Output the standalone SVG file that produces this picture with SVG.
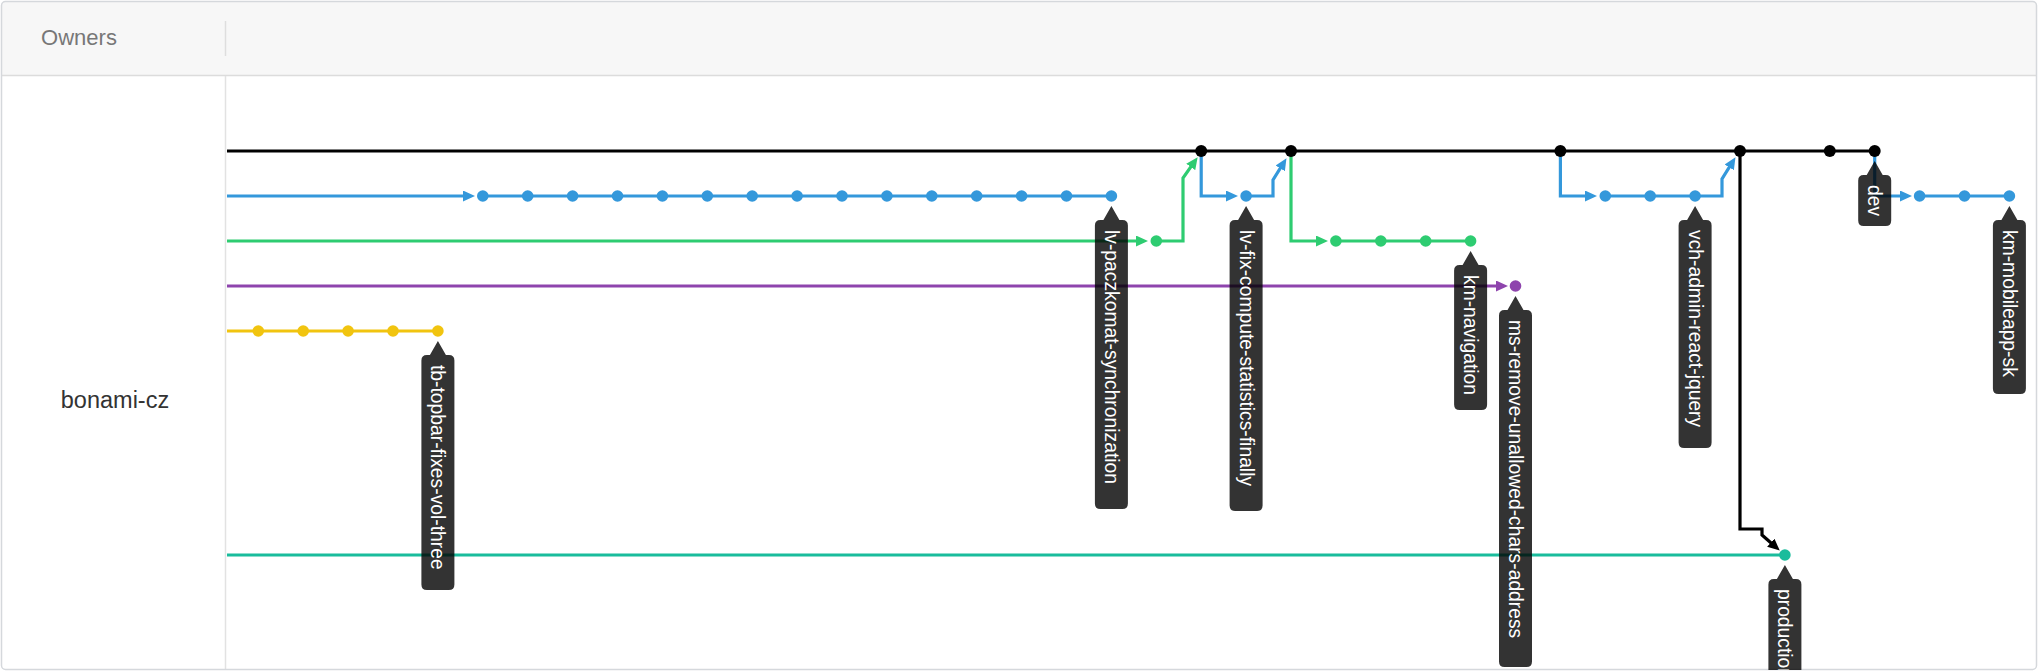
<svg xmlns="http://www.w3.org/2000/svg" width="2039" height="672" viewBox="0 0 2039 672">
<defs>
<style>
.ln{fill:none;stroke-width:3.2;stroke-linejoin:miter}
.bk{stroke:#000}.bl{stroke:#3498db}.gr{stroke:#2ecc71}.pu{stroke:#8e44ad}.ye{stroke:#f1c40f}.te{stroke:#1abc9c}
.cbk{fill:#000}.cbl{fill:#3498db}.cgr{fill:#2ecc71}.cpu{fill:#8e44ad}.cye{fill:#f1c40f}.cte{fill:#1abc9c}
.tag path{fill:#000;fill-opacity:.8}
.tag text{fill:#fff;font-family:"Liberation Sans",Arial,sans-serif;font-size:19.3px}
</style>
<marker id="abk" markerUnits="userSpaceOnUse" markerWidth="13" markerHeight="11" refX="5" refY="5.5" orient="auto"><path d="M0,0 L12,5.5 L0,11 Z" fill="#000"/></marker>
<marker id="abl" markerUnits="userSpaceOnUse" markerWidth="13" markerHeight="11" refX="5" refY="5.5" orient="auto"><path d="M0,0 L12,5.5 L0,11 Z" fill="#3498db"/></marker>
<marker id="agr" markerUnits="userSpaceOnUse" markerWidth="13" markerHeight="11" refX="5" refY="5.5" orient="auto"><path d="M0,0 L12,5.5 L0,11 Z" fill="#2ecc71"/></marker>
<marker id="apu" markerUnits="userSpaceOnUse" markerWidth="13" markerHeight="11" refX="5" refY="5.5" orient="auto"><path d="M0,0 L12,5.5 L0,11 Z" fill="#8e44ad"/></marker>
<clipPath id="card"><rect x="1" y="1" width="2036" height="669" rx="4"/></clipPath>
</defs>

<g id="frame">
<rect x="1.5" y="1.5" width="2035" height="668" rx="4" fill="#fff"/>
<g clip-path="url(#card)">
<rect x="1" y="1" width="2036" height="74.5" fill="#f7f7f7"/>
</g>
<line x1="1" y1="75.5" x2="2037" y2="75.5" stroke="#dcdcdc" stroke-width="1.5"/>
<line x1="225.5" y1="21" x2="225.5" y2="56" stroke="#dedede" stroke-width="1.5"/>
<line x1="225.5" y1="76" x2="225.5" y2="670" stroke="#e2e2e2" stroke-width="1.5"/>
<text x="79" y="45" text-anchor="middle" font-family="'Liberation Sans',Arial,sans-serif" font-size="22" fill="#777">Owners</text>
<text x="115" y="408" text-anchor="middle" font-family="'Liberation Sans',Arial,sans-serif" font-size="23.5" fill="#333">bonami-cz</text>
<rect x="1.5" y="1.5" width="2035" height="668" rx="4" fill="none" stroke="#d5d8dc" stroke-width="1.5"/>
</g>

<g id="connectors">
<path class="ln bk" d="M227,151 H1874.7"/>
<path class="ln ye" d="M227,331 H437.9"/>
<path class="ln bl" d="M227,196 H468" marker-end="url(#abl)"/>
<path class="ln bl" d="M482.8,196 H1111.4"/>
<path class="ln gr" d="M227,241 H1141" marker-end="url(#agr)"/>
<path class="ln gr" d="M1156.3,241 H1183 V178 L1193.6,162.9" marker-end="url(#agr)"/>
<path class="ln bl" d="M1201.2,151 V196 H1231" marker-end="url(#abl)"/>
<path class="ln bl" d="M1246.1,196 H1273 V180 L1282.8,164.1" marker-end="url(#abl)"/>
<path class="ln gr" d="M1291,151 V241 H1321" marker-end="url(#agr)"/>
<path class="ln gr" d="M1335.9,241 H1470.6"/>
<path class="ln pu" d="M227,286 H1501" marker-end="url(#apu)"/>
<path class="ln bl" d="M1560.4,151 V196 H1590" marker-end="url(#abl)"/>
<path class="ln bl" d="M1605.3,196 H1722 V179 L1731.8,163.1" marker-end="url(#abl)"/>
<path class="ln bk" d="M1740,151 V529 H1762 V535 L1774.5,546" marker-end="url(#abk)"/>
<path class="ln bl" d="M1874.7,151 V196 H1905" marker-end="url(#abl)"/>
<path class="ln bl" d="M1919.6,196 H2009.4"/>
<path class="ln te" d="M227,555 H1784.9"/>
</g>

<g id="node-tb-topbar" class="cye">
<circle cx="258.3" cy="331" r="5.8"/><circle cx="303.2" cy="331" r="5.8"/><circle cx="348.1" cy="331" r="5.8"/><circle cx="393" cy="331" r="5.8"/><circle cx="437.9" cy="331" r="5.8"/>
</g>
<g id="node-lv-paczkomat" class="cbl">
<circle cx="482.8" cy="196" r="5.8"/><circle cx="527.7" cy="196" r="5.8"/><circle cx="572.6" cy="196" r="5.8"/><circle cx="617.5" cy="196" r="5.8"/><circle cx="662.4" cy="196" r="5.8"/><circle cx="707.3" cy="196" r="5.8"/><circle cx="752.2" cy="196" r="5.8"/><circle cx="797.1" cy="196" r="5.8"/><circle cx="842" cy="196" r="5.8"/><circle cx="886.9" cy="196" r="5.8"/><circle cx="931.8" cy="196" r="5.8"/><circle cx="976.7" cy="196" r="5.8"/><circle cx="1021.6" cy="196" r="5.8"/><circle cx="1066.5" cy="196" r="5.8"/><circle cx="1111.4" cy="196" r="5.8"/>
</g>
<g id="node-green-1" class="cgr"><circle cx="1156.3" cy="241" r="5.8"/></g>
<g id="node-lv-fix" class="cbl"><circle cx="1246.1" cy="196" r="5.8"/></g>
<g id="node-km-navigation" class="cgr">
<circle cx="1335.9" cy="241" r="5.8"/><circle cx="1380.8" cy="241" r="5.8"/><circle cx="1425.7" cy="241" r="5.8"/><circle cx="1470.6" cy="241" r="5.8"/>
</g>
<g id="node-ms-remove" class="cpu"><circle cx="1515.5" cy="286" r="5.8"/></g>
<g id="node-vch-admin" class="cbl">
<circle cx="1605.3" cy="196" r="5.8"/><circle cx="1650.2" cy="196" r="5.8"/><circle cx="1695.1" cy="196" r="5.8"/>
</g>
<g id="node-km-mobileapp" class="cbl">
<circle cx="1919.6" cy="196" r="5.8"/><circle cx="1964.5" cy="196" r="5.8"/><circle cx="2009.4" cy="196" r="5.8"/>
</g>
<g id="node-dev" class="cbk">
<circle cx="1201.2" cy="151" r="6"/><circle cx="1291" cy="151" r="6"/><circle cx="1560.4" cy="151" r="6"/><circle cx="1740" cy="151" r="6"/><circle cx="1829.8" cy="151" r="6"/><circle cx="1874.7" cy="151" r="6"/>
</g>
<g id="node-production" class="cte"><circle cx="1784.9" cy="555" r="5.8"/></g>

<g id="label-tb-topbar-fixes-vol-three" class="tag" transform="translate(437.9,331)">
<path d="M0,10 L8,24 H11 Q16.5,24 16.5,29.5 V253.5 Q16.5,259 11,259 H-11 Q-16.5,259 -16.5,253.5 V29.5 Q-16.5,24 -11,24 H-8 Z"/>
<text transform="rotate(90)" x="34" y="0" dominant-baseline="central">tb-topbar-fixes-vol-three</text>
</g>
<g id="label-lv-paczkomat-synchronization" class="tag" transform="translate(1111.4,196)">
<path d="M0,10 L8,24 H11 Q16.5,24 16.5,29.5 V307.5 Q16.5,313 11,313 H-11 Q-16.5,313 -16.5,307.5 V29.5 Q-16.5,24 -11,24 H-8 Z"/>
<text transform="rotate(90)" x="34" y="0" dominant-baseline="central">lv-paczkomat-synchronization</text>
</g>
<g id="label-lv-fix-compute-statistics-finally" class="tag" transform="translate(1246.1,196)">
<path d="M0,10 L8,24 H11 Q16.5,24 16.5,29.5 V309.5 Q16.5,315 11,315 H-11 Q-16.5,315 -16.5,309.5 V29.5 Q-16.5,24 -11,24 H-8 Z"/>
<text transform="rotate(90)" x="34" y="0" dominant-baseline="central">lv-fix-compute-statistics-finally</text>
</g>
<g id="label-km-navigation" class="tag" transform="translate(1470.6,241)">
<path d="M0,10 L8,24 H11 Q16.5,24 16.5,29.5 V163.5 Q16.5,169 11,169 H-11 Q-16.5,169 -16.5,163.5 V29.5 Q-16.5,24 -11,24 H-8 Z"/>
<text transform="rotate(90)" x="34" y="0" dominant-baseline="central">km-navigation</text>
</g>
<g id="label-ms-remove-unallowed-chars-address" class="tag" transform="translate(1515.5,286)">
<path d="M0,10 L8,24 H11 Q16.5,24 16.5,29.5 V375.5 Q16.5,381 11,381 H-11 Q-16.5,381 -16.5,375.5 V29.5 Q-16.5,24 -11,24 H-8 Z"/>
<text transform="rotate(90)" x="34" y="0" dominant-baseline="central">ms-remove-unallowed-chars-address</text>
</g>
<g id="label-vch-admin-react-jquery" class="tag" transform="translate(1695.1,196)">
<path d="M0,10 L8,24 H11 Q16.5,24 16.5,29.5 V246.5 Q16.5,252 11,252 H-11 Q-16.5,252 -16.5,246.5 V29.5 Q-16.5,24 -11,24 H-8 Z"/>
<text transform="rotate(90)" x="34" y="0" dominant-baseline="central">vch-admin-react-jquery</text>
</g>
<g id="label-dev" class="tag" transform="translate(1874.7,151)">
<path d="M0,10 L8,24 H11 Q16.5,24 16.5,29.5 V69.5 Q16.5,75 11,75 H-11 Q-16.5,75 -16.5,69.5 V29.5 Q-16.5,24 -11,24 H-8 Z"/>
<text transform="rotate(90)" x="34" y="0" dominant-baseline="central">dev</text>
</g>
<g id="label-km-mobileapp-sk" class="tag" transform="translate(2009.4,196)">
<path d="M0,10 L8,24 H11 Q16.5,24 16.5,29.5 V192.5 Q16.5,198 11,198 H-11 Q-16.5,198 -16.5,192.5 V29.5 Q-16.5,24 -11,24 H-8 Z"/>
<text transform="rotate(90)" x="34" y="0" dominant-baseline="central">km-mobileapp-sk</text>
</g>
<g clip-path="url(#card)">
<g id="label-production" class="tag" transform="translate(1784.9,555)">
<path d="M0,10 L8,24 H11 Q16.5,24 16.5,29.5 V134.5 Q16.5,140 11,140 H-11 Q-16.5,140 -16.5,134.5 V29.5 Q-16.5,24 -11,24 H-8 Z"/>
<text transform="rotate(90)" x="34" y="0" dominant-baseline="central">production</text>
</g>
</g>
</svg>
